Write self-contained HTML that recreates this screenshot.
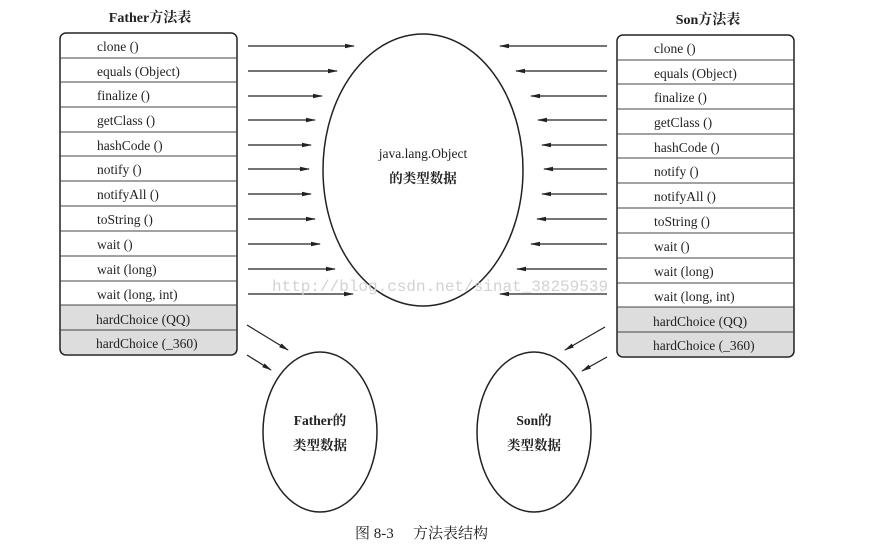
<!DOCTYPE html>
<html><head><meta charset="utf-8"><style>
html,body{margin:0;padding:0;background:#fff;}
svg{display:block;}
text{font-family:"Liberation Serif","Noto Serif CJK SC",serif;fill:#222;}
</style></head><body>
<svg width="873" height="549" viewBox="0 0 873 549" xmlns="http://www.w3.org/2000/svg">
<defs>
<marker id="a" markerWidth="10" markerHeight="6" refX="9" refY="3" orient="auto" markerUnits="userSpaceOnUse">
<path d="M0,0.8 L10,3 L0,5.2 Z" fill="#222"/></marker>
</defs>
<text x="150" y="22" font-size="14" text-anchor="middle" font-weight="bold">Father方法表</text>
<text x="708" y="24" font-size="14" text-anchor="middle" font-weight="bold">Son方法表</text>
<!-- left table -->
<rect x="60" y="305" width="177" height="49" fill="#ddd"/>
<rect x="60" y="33" width="177" height="322" rx="6" fill="none" stroke="#222" stroke-width="1.5"/>
<g stroke="#444" stroke-width="1">
<line x1="60" y1="58" x2="237" y2="58"/><line x1="60" y1="82" x2="237" y2="82"/><line x1="60" y1="107" x2="237" y2="107"/><line x1="60" y1="132" x2="237" y2="132"/><line x1="60" y1="156" x2="237" y2="156"/><line x1="60" y1="181" x2="237" y2="181"/><line x1="60" y1="206" x2="237" y2="206"/><line x1="60" y1="231" x2="237" y2="231"/><line x1="60" y1="256" x2="237" y2="256"/><line x1="60" y1="281" x2="237" y2="281"/><line x1="60" y1="305" x2="237" y2="305"/><line x1="60" y1="330" x2="237" y2="330"/>
</g>
<g font-size="13.5" style="white-space:pre">
<text x="97" y="51">clone ()</text><text x="97" y="76">equals (Object)</text><text x="97" y="100">finalize ()</text><text x="97" y="125">getClass ()</text><text x="97" y="150">hashCode ()</text><text x="97" y="174">notify ()</text><text x="97" y="199">notifyAll ()</text><text x="97" y="224">toString ()</text><text x="97" y="249">wait ()</text><text x="97" y="274">wait (long)</text><text x="97" y="299">wait (long, int)</text><text x="96" y="324">hardChoice (QQ)</text><text x="96" y="348">hardChoice (_360)</text>
</g>
<!-- right table -->
<rect x="617" y="307" width="177" height="49" fill="#ddd"/>
<rect x="617" y="35" width="177" height="322" rx="6" fill="none" stroke="#222" stroke-width="1.5"/>
<g stroke="#444" stroke-width="1">
<line x1="617" y1="60" x2="794" y2="60"/><line x1="617" y1="84" x2="794" y2="84"/><line x1="617" y1="109" x2="794" y2="109"/><line x1="617" y1="134" x2="794" y2="134"/><line x1="617" y1="158" x2="794" y2="158"/><line x1="617" y1="183" x2="794" y2="183"/><line x1="617" y1="208" x2="794" y2="208"/><line x1="617" y1="233" x2="794" y2="233"/><line x1="617" y1="258" x2="794" y2="258"/><line x1="617" y1="283" x2="794" y2="283"/><line x1="617" y1="307" x2="794" y2="307"/><line x1="617" y1="332" x2="794" y2="332"/>
</g>
<g font-size="13.5">
<text x="654" y="53">clone ()</text><text x="654" y="78">equals (Object)</text><text x="654" y="102">finalize ()</text><text x="654" y="127">getClass ()</text><text x="654" y="152">hashCode ()</text><text x="654" y="176">notify ()</text><text x="654" y="201">notifyAll ()</text><text x="654" y="226">toString ()</text><text x="654" y="251">wait ()</text><text x="654" y="276">wait (long)</text><text x="654" y="301">wait (long, int)</text><text x="653" y="326">hardChoice (QQ)</text><text x="653" y="350">hardChoice (_360)</text>
</g>
<!-- big ellipse -->
<ellipse cx="423" cy="170" rx="100" ry="136" fill="none" stroke="#222" stroke-width="1.5"/>
<text x="423" y="158" font-size="13.5" text-anchor="middle">java.lang.Object</text>
<text x="423" y="183" font-size="13.5" text-anchor="middle" font-weight="bold">的类型数据</text>
<!-- arrows -->
<g stroke="#222" stroke-width="1.2" marker-end="url(#a)">
<line x1="248" y1="46" x2="354" y2="46"/><line x1="248" y1="71" x2="337" y2="71"/><line x1="248" y1="96" x2="322" y2="96"/><line x1="248" y1="120" x2="315" y2="120"/><line x1="248" y1="145" x2="311" y2="145"/><line x1="248" y1="169" x2="309" y2="169"/><line x1="248" y1="194" x2="311" y2="194"/><line x1="248" y1="219" x2="315" y2="219"/><line x1="248" y1="244" x2="320" y2="244"/><line x1="248" y1="269" x2="335" y2="269"/><line x1="248" y1="294" x2="353" y2="294"/>
<line x1="607" y1="46" x2="500" y2="46"/><line x1="607" y1="71" x2="516" y2="71"/><line x1="607" y1="96" x2="531" y2="96"/><line x1="607" y1="120" x2="538" y2="120"/><line x1="607" y1="145" x2="542" y2="145"/><line x1="607" y1="169" x2="544" y2="169"/><line x1="607" y1="194" x2="542" y2="194"/><line x1="607" y1="219" x2="537" y2="219"/><line x1="607" y1="244" x2="531" y2="244"/><line x1="607" y1="269" x2="517" y2="269"/><line x1="607" y1="294" x2="500" y2="294"/>
<line x1="247" y1="325" x2="288" y2="350"/><line x1="247" y1="355" x2="271" y2="370"/>
<line x1="605" y1="327" x2="565" y2="350"/><line x1="607" y1="357" x2="582" y2="371"/>
</g>
<!-- small ellipses -->
<ellipse cx="320" cy="432" rx="57" ry="80" fill="none" stroke="#222" stroke-width="1.5"/>
<text x="320" y="425" font-size="13.5" text-anchor="middle" font-weight="bold">Father的</text>
<text x="320" y="450" font-size="13.5" text-anchor="middle" font-weight="bold">类型数据</text>
<ellipse cx="534" cy="432" rx="57" ry="80" fill="none" stroke="#222" stroke-width="1.5"/>
<text x="534" y="425" font-size="13.5" text-anchor="middle" font-weight="bold">Son的</text>
<text x="534" y="450" font-size="13.5" text-anchor="middle" font-weight="bold">类型数据</text>
<!-- watermark -->
<text x="272" y="291" font-size="16" style="font-family:'Liberation Mono',monospace;fill:#d2d2d2">http://blog.csdn.net/sinat_38259539</text>
<!-- caption -->
<text x="355" y="538" font-size="15">图 8-3</text>
<text x="413" y="538" font-size="15">方法表结构</text>
</svg>
</body></html>
